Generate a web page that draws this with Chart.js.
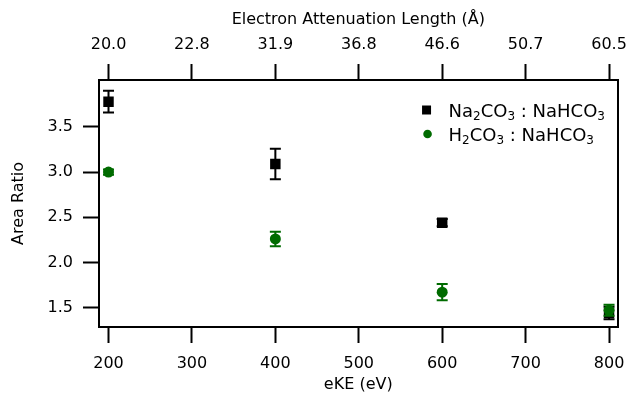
<!DOCTYPE html>
<html>
<head>
<meta charset="utf-8">
<title>Area Ratio vs eKE</title>
<script src="https://cdn.jsdelivr.net/npm/chart.js@4.4.0/dist/chart.umd.min.js"></script>
<style>
    html, body { margin: 0; padding: 0; background: #fff; }
    #ratioChart { display: block; }
</style>
</head>
<body>
<canvas id="ratioChart" width="637" height="394"></canvas>
<script>
// photoelectron kinetic energies (eV)
const eKE = [200, 400, 600, 800];

const naRatio = [3.78, 3.09, 2.44, 1.44];
const naError = [0.12, 0.17, 0.04, 0.07];

const hRatio = [3.00, 2.26, 1.67, 1.47];
const hError = [0.03, 0.08, 0.09, 0.06];

const xTicks = [200, 300, 400, 500, 600, 700, 800];
const yTicks = [1.5, 2.0, 2.5, 3.0, 3.5];
// electron attenuation length (Å) at each eKE tick
const ealLabels = ['20.0', '22.8', '31.9', '36.8', '46.6', '50.7', '60.5'];

const FONT = "'DejaVu Sans', Helvetica, Arial, sans-serif";
const GREEN = '#006b00';
const SUBS = { '\u2082': '2', '\u2083': '3' };

const errorBars = {
    id: 'errorBars',
    afterDatasetDraw(chart, args) {
        const ds = chart.data.datasets[args.index];
        if (!ds.errors) return;
        const ctx = chart.ctx;
        const x = chart.scales.x, y = chart.scales.y;
        ctx.save();
        ctx.strokeStyle = ds.borderColor;
        ctx.lineWidth = 2;
        ds.data.forEach((p, i) => {
            const px = x.getPixelForValue(p.x);
            const top = y.getPixelForValue(p.y + ds.errors[i]);
            const bot = y.getPixelForValue(p.y - ds.errors[i]);
            ctx.beginPath();
            ctx.moveTo(px, top); ctx.lineTo(px, bot);
            ctx.moveTo(px - 5.5, top); ctx.lineTo(px + 5.5, top);
            ctx.moveTo(px - 5.5, bot); ctx.lineTo(px + 5.5, bot);
            ctx.stroke();
        });
        ctx.restore();
    }
};

// draws a label, turning subscript digits into small lowered digits
function drawChem(ctx, text, x, y) {
    for (const ch of text) {
        if (SUBS[ch]) {
            ctx.font = '12px ' + FONT;
            ctx.fillText(SUBS[ch], x, y + 3.5);
            x += ctx.measureText(SUBS[ch]).width;
        } else {
            ctx.font = '18px ' + FONT;
            ctx.fillText(ch, x, y);
            x += ctx.measureText(ch).width;
        }
    }
}

// legend sits inside the plot, top right
const insideLegend = {
    id: 'insideLegend',
    afterDraw(chart) {
        const ctx = chart.ctx;
        const area = chart.chartArea;
        const x0 = area.right - 191, y0 = area.top + 30;
        ctx.save();
        ctx.textBaseline = 'alphabetic';
        chart.data.datasets.forEach((ds, i) => {
            const yy = y0 + i * 24;
            ctx.fillStyle = ds.backgroundColor;
            ctx.beginPath();
            if (ds.pointStyle === 'rect') ctx.rect(x0 - 4.5, yy - 4.5, 9, 9);
            else ctx.arc(x0 + 1, yy, 4.3, 0, Math.PI * 2);
            ctx.fill();
            ctx.fillStyle = '#000';
            drawChem(ctx, ds.label, x0 + 22, yy + 6.5);
        });
        ctx.restore();
    }
};

const fixedTicks = (vals) => (axis) => { axis.ticks = vals.map(v => ({ value: v })); };

const axisBase = {
    border: { display: true, color: '#000', width: 2 },
    grid: { display: true, drawOnChartArea: false, drawTicks: true, tickLength: 16, tickWidth: 2, tickColor: '#000', color: '#000' },
    ticks: { color: '#000', font: { family: FONT, size: 16 } },
    title: { display: true, color: '#000', font: { family: FONT, size: 16 } }
};

new Chart(document.getElementById('ratioChart'), {
    type: 'scatter',
    data: {
        datasets: [
            {
                label: 'Na\u2082CO\u2083 : NaHCO\u2083',
                data: eKE.map((v, i) => ({ x: v, y: naRatio[i] })),
                errors: naError,
                pointStyle: 'rect',
                pointRadius: 7.4,
                backgroundColor: '#000',
                borderColor: '#000',
                borderWidth: 0,
                order: 2
            },
            {
                label: 'H\u2082CO\u2083 : NaHCO\u2083',
                data: eKE.map((v, i) => ({ x: v, y: hRatio[i] })),
                errors: hError,
                pointStyle: 'circle',
                pointRadius: 5.5,
                backgroundColor: GREEN,
                borderColor: GREEN,
                borderWidth: 0,
                order: 1
            }
        ]
    },
    options: {
        responsive: false,
        animation: false,
        layout: { padding: 0 },
        plugins: { legend: { display: false }, tooltip: { enabled: false } },
        scales: {
            x: {
                ...axisBase,
                type: 'linear', position: 'bottom',
                min: 188.6, max: 810.2,
                afterBuildTicks: fixedTicks(xTicks),
                afterFit: (s) => { s.height = 67; },
                ticks: { ...axisBase.ticks, padding: 11, maxRotation: 0 },
                title: { ...axisBase.title, text: 'eKE (eV)', padding: { top: 0, bottom: 0 } }
            },
            x2: {
                ...axisBase,
                type: 'linear', position: 'top',
                min: 188.6, max: 810.2,
                afterBuildTicks: fixedTicks(xTicks),
                afterFit: (s) => { s.height = 80; },
                ticks: { ...axisBase.ticks, padding: 10, maxRotation: 0, callback: (v, i) => ealLabels[i] },
                title: { ...axisBase.title, text: 'Electron Attenuation Length (\u00c5)', padding: { top: 10, bottom: 0 } }
            },
            y: {
                ...axisBase,
                type: 'linear', position: 'left',
                min: 1.285, max: 4.02,
                afterBuildTicks: fixedTicks(yTicks),
                afterFit: (s) => { s.width = 99; },
                ticks: { ...axisBase.ticks, padding: 10, callback: (v) => v.toFixed(1) },
                title: { ...axisBase.title, text: 'Area Ratio', padding: { top: 9, bottom: 0 } }
            },
            yR: {
                type: 'linear', position: 'right',
                min: 1.285, max: 4.02,
                afterFit: (s) => { s.width = 9; },
                border: { display: true, color: '#000', width: 2 },
                grid: { display: false },
                ticks: { display: false }
            }
        }
    },
    plugins: [errorBars, insideLegend]
});
</script>
</body>
</html>
